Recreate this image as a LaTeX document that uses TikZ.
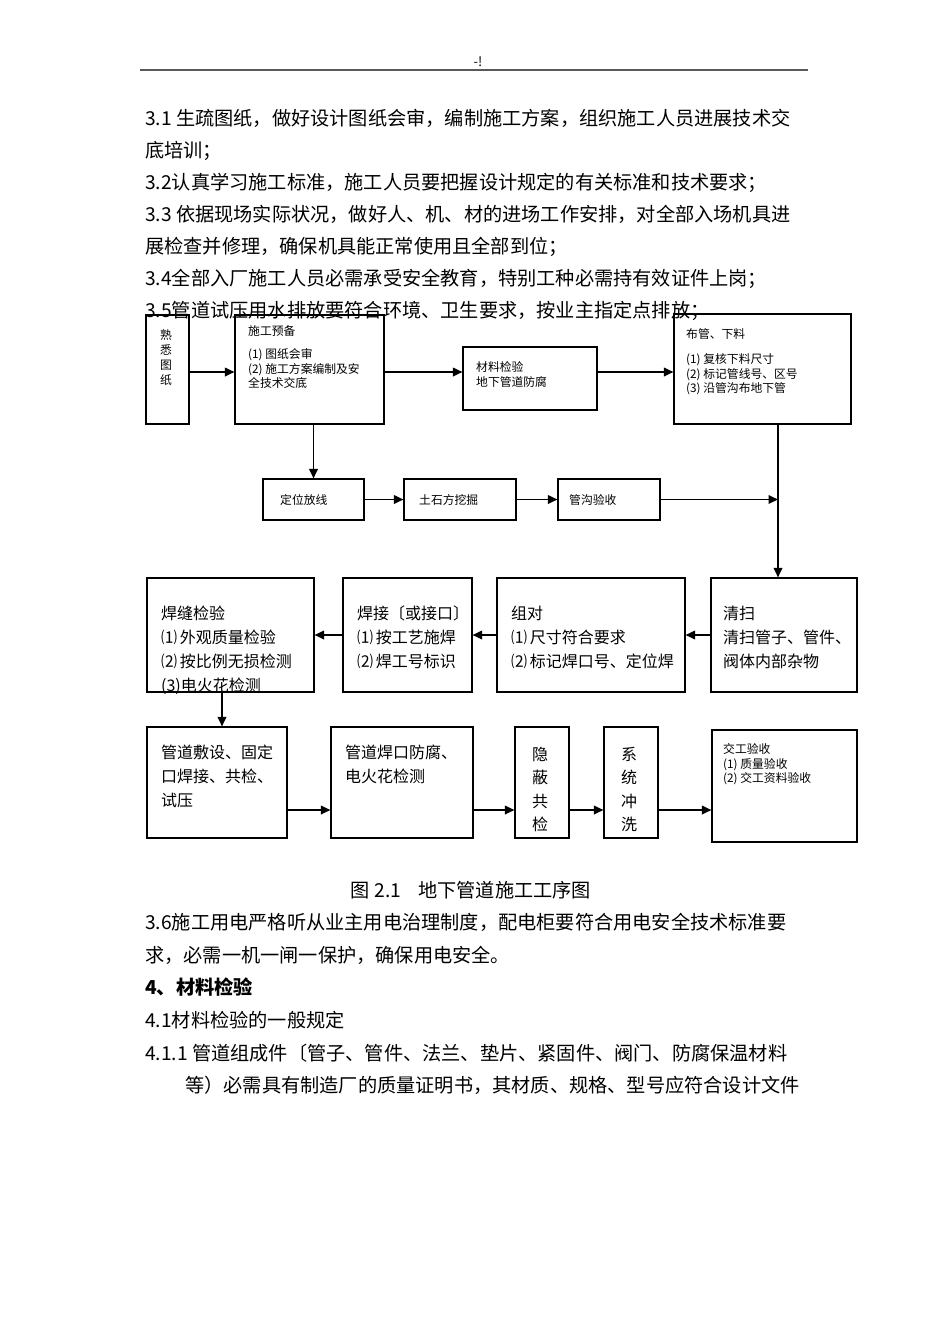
\documentclass[tikz,border=0pt]{standalone}
\usepackage{fontspec}
\setmainfont{Noto Sans CJK SC}
\usepackage{tikz}
\usetikzlibrary{arrows.meta}

\tikzset{
	box/.style={draw, line width=1.1pt, inner sep=0pt},
	arr/.style={line width=1.8pt, -{Triangle[length=9.5pt,width=8.5pt]}},
	small/.style={font=\fontsize{11.8}{14.5}\selectfont, inner sep=0pt, align=left},
	big/.style={font=\fontsize{16}{24}\selectfont, inner sep=0pt, align=left},
	body/.style={font=\fontsize{19.2}{32}\selectfont, inner sep=0pt, align=left},
}
\newcommand{\pbox}[5]{\node[box, minimum width={(#4-#2)*1pt}, minimum height={(#5-#3)*1pt}] (#1) at ({(#2+#4)/2},{(#3+#5)/2}) {};}

\begin{document}
\begin{tikzpicture}[x=1pt, y=-1pt]
\useasboundingbox (0,0) rectangle (950,1344);

\node[font=\fontsize{13}{13}\selectfont, inner sep=0pt] (ym) at (478,62) {-!};
\draw[line width=2pt, black!65] (140,70) -- (808,70);

\node[body, anchor=north west] (sec3) at (145,109.2) {3.1 生疏图纸，做好设计图纸会审，编制施工方案，组织施工人员进展技术交\\
底培训；\\
3.2认真学习施工标准，施工人员要把握设计规定的有关标准和技术要求；\\
3.3 依据现场实际状况，做好人、机、材的进场工作安排，对全部入场机具进\\
展检查并修理，确保机具能正常使用且全部到位；\\
3.4全部入厂施工人员必需承受安全教育，特别工种必需持有效证件上岗；\\
3.5管道试压用水排放要符合环境、卫生要求，按业主指定点排放；};

% boxes
\pbox{sxtz}{146}{315}{189}{424}
\pbox{sgyb}{235}{315}{384}{424}
\pbox{clj}{463}{347}{597}{410}
\pbox{bgxl}{674}{314}{851}{424}
\pbox{dwfx}{263}{479}{364}{520}
\pbox{tsf}{404}{479}{516}{520}
\pbox{gyys}{558}{479}{660}{520}
\pbox{hfjy}{147}{578}{314}{692}
\pbox{hj}{343}{578}{472}{692}
\pbox{zd}{497}{578}{685}{692}
\pbox{qs}{711}{578}{857}{692}
\pbox{gdfs}{147}{727}{287}{838}
\pbox{hkff}{331}{727}{473}{838}
\pbox{ybgj}{515}{727}{569}{838}
\pbox{xtcx}{604}{727}{658}{838}
\pbox{jgys}{712}{730}{857}{842}

% texts
\foreach \c [count=\i] in {熟,悉,图,纸}{
	\node[small] (sx\i) at (166,335+15*\i-15) {\c};
}
\node[small, anchor=west] (sgybt) at (248,331) {施工预备};
\node[small, anchor=north west] (sgybl) at (248,348.7) {(1) 图纸会审\\(2) 施工方案编制及安\\全技术交底};
\node[small, anchor=north west] (cljt) at (476,361.7) {材料检验\\地下管道防腐};
\node[small, anchor=west] (bgxlt) at (686,334) {布管、下料};
\node[small, anchor=north west] (bgxll) at (686,353.7) {(1) 复核下料尺寸\\(2) 标记管线号、区号\\(3) 沿管沟布地下管};
\node[small, anchor=west] (dwfxt) at (280,500) {定位放线};
\node[small, anchor=west] (tsft) at (419,500) {土石方挖掘};
\node[small, anchor=west] (gyyst) at (569,500) {管沟验收};

\node[big, anchor=north west] (hfjyt) at (161,605.6) {焊缝检验\\⑴\,外观质量检验\\⑵\,按比例无损检测\\(3)电火花检测};
\node[big, anchor=north west] (hjt) at (357,605.6) {焊接〔或接口〕\\⑴\,按工艺施焊\\⑵\,焊工号标识};
\node[big, anchor=north west] (zdt) at (511,605.6) {组对\\⑴\,尺寸符合要求\\⑵\,标记焊口号、定位焊};
\node[big, anchor=north west] (qst) at (723,605.6) {清扫\\清扫管子、管件、\\阀体内部杂物};

\node[big, anchor=north west] (gdfst) at (161,744.6) {管道敷设、固定\\口焊接、共检、\\试压};
\node[big, anchor=north west] (hkfft) at (345,744.6) {管道焊口防腐、\\电火花检测};
\foreach \c [count=\i] in {隐,蔽,共,检}{
	\node[big] (yb\i) at (540,754+23.5*\i-23.5) {\c};
}
\foreach \c [count=\i] in {系,统,冲,洗}{
	\node[big] (xt\i) at (629,754+23.5*\i-23.5) {\c};
}
\node[small, anchor=north west] (jgyst) at (723,743.7) {交工验收\\(1) 质量验收\\(2) 交工资料验收};

% arrows
\coordinate (r1) at (0,372);
\draw[arr] (sxtz.east |- r1) -- (sgyb.west |- r1);
\draw[arr] (sgyb.east |- r1) -- (clj.west |- r1);
\draw[arr] (clj.east |- r1) -- (bgxl.west |- r1);
\draw[arr] (sgyb.south -| dwfx.north) -- (dwfx.north);
\draw[arr] (dwfx) -- (tsf);
\draw[arr] (tsf) -- (gyys);
\coordinate (jd) at (778,499.5);
\draw[arr] (gyys) -- (jd);
\draw[arr] (bgxl.south -| jd) -- (qs.north -| jd);
\draw[arr] (qs) -- (zd);
\draw[arr] (zd) -- (hj);
\draw[arr] (hj) -- (hfjy);
\coordinate (xl) at (222,710);
\draw[arr] (hfjy.south -| xl) -- (gdfs.north -| xl);
\coordinate (r4) at (0,810);
\draw[arr] (gdfs.east |- r4) -- (hkff.west |- r4);
\draw[arr] (hkff.east |- r4) -- (ybgj.west |- r4);
\draw[arr] (ybgj.east |- r4) -- (xtcx.west |- r4);
\draw[arr] (xtcx.east |- r4) -- (jgys.west |- r4);

\node[body] (tm) at (471,890) {图 2.1\ \ \ \ 地下管道施工工序图};

\node[body, anchor=north west, font=\fontsize{19.2}{32.6}\selectfont] (sec4) at (145,913.2) {3.6施工用电严格听从业主用电治理制度，配电柜要符合用电安全技术标准要\\
求，必需一机一闸一保护，确保用电安全。\\
{\bfseries 4、材料检验}\\
4.1材料检验的一般规定\\
4.1.1 管道组成件〔管子、管件、法兰、垫片、紧固件、阀门、防腐保温材料};
\node[body, anchor=west] (sec4b) at (185,1085) {等）必需具有制造厂的质量证明书，其材质、规格、型号应符合设计文件};

\end{tikzpicture}
\end{document}
